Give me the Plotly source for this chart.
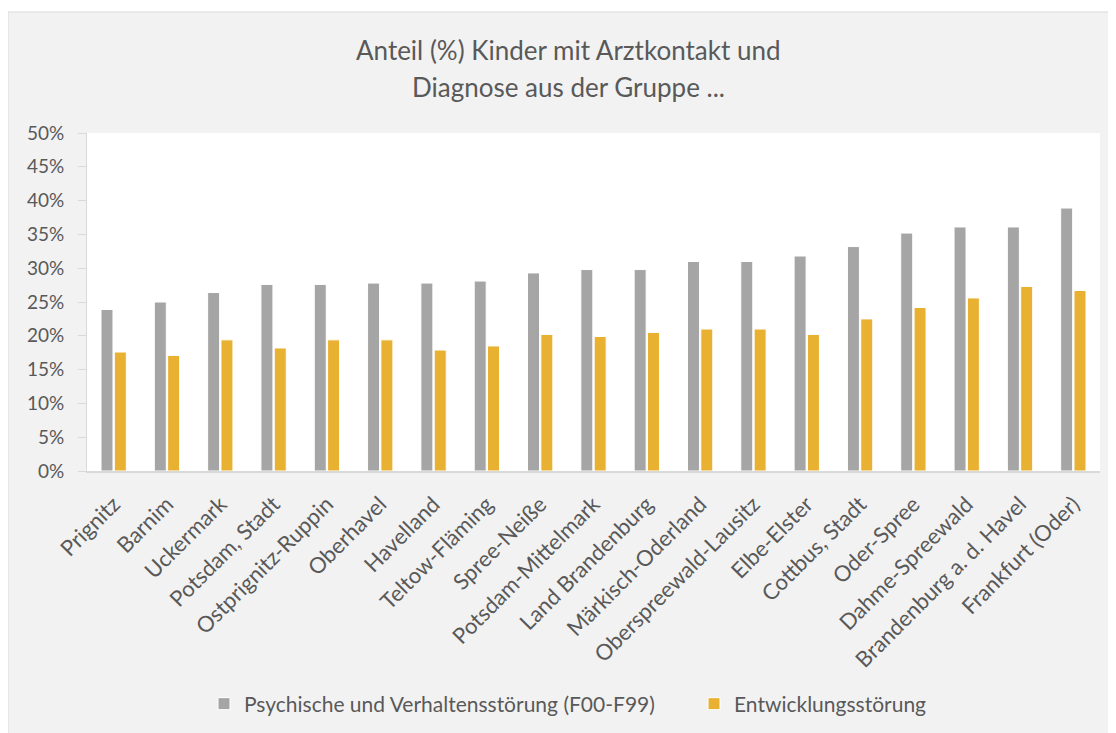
import plotly.graph_objects as go

categories = ["Prignitz", "Barnim", "Uckermark", "Potsdam, Stadt", "Ostprignitz-Ruppin",
              "Oberhavel", "Havelland", "Teltow-Fläming", "Spree-Neiße", "Potsdam-Mittelmark",
              "Land Brandenburg", "Märkisch-Oderland", "Oberspreewald-Lausitz", "Elbe-Elster",
              "Cottbus, Stadt", "Oder-Spree", "Dahme-Spreewald", "Brandenburg a. d. Havel",
              "Frankfurt (Oder)"]
psychisch = [23.9, 25.0, 26.4, 27.6, 27.6, 27.8, 27.8, 28.1, 29.3, 29.8, 29.8, 31.0, 31.0,
             31.8, 33.2, 35.2, 36.1, 36.1, 38.9]
entwicklung = [17.6, 17.1, 19.4, 18.2, 19.4, 19.4, 17.9, 18.5, 20.2, 19.9, 20.5, 21.0, 21.0,
               20.2, 22.5, 24.2, 25.6, 27.3, 26.7]
series_names = ["Psychische und Verhaltensstörung (F00-F99)", "Entwicklungsstörung"]
title_lines = ["Anteil (%) Kinder mit Arztkontakt und", "Diagnose aus der Gruppe ..."]

OFF = 8  # page body margin
W, H = 1116 - OFF, 733 - OFF
# plot-area edges in page pixels
PL, PR, PT, PB = 87, 1100, 133, 471
pw, ph = PR - PL, PB - PT

def px(x):
    return (x - PL) / pw

def py(y):
    return (PB - y) / ph

FONT = "Lato, 'Open Sans', sans-serif"
TXT = "#595959"

fig = go.Figure()
fig.add_trace(go.Bar(x=categories, y=[v / 100 for v in psychisch], name=series_names[0],
                     marker=dict(color="#A5A5A5", line=dict(color="white", width=1)),
                     legend="legend"))
fig.add_trace(go.Bar(x=categories, y=[v / 100 for v in entwicklung], name=series_names[1],
                     marker=dict(color="#E9B131", line=dict(color="white", width=1)),
                     legend="legend2"))

shapes = [
    dict(type="rect", xref="paper", yref="paper", x0=px(8), x1=px(1140), y0=py(760), y1=py(12),
         fillcolor="#F2F2F2", line=dict(color="#D9D9D9", width=1), layer="below"),
    dict(type="rect", xref="paper", yref="paper", x0=0, x1=1, y0=0, y1=1,
         fillcolor="white", line=dict(width=0), layer="below"),
]

annotations = [
    dict(text=title_lines[0], xref="paper", yref="paper", x=px(568), y=py(50),
         xanchor="center", yanchor="middle", showarrow=False,
         font=dict(family=FONT, size=26, color=TXT)),
    dict(text=title_lines[1], xref="paper", yref="paper", x=px(568), y=py(87),
         xanchor="center", yanchor="middle", showarrow=False,
         font=dict(family=FONT, size=26, color=TXT)),
]

legend_font = dict(family=FONT, size=21, color=TXT)
fig.update_layout(
    width=W, height=H,
    margin=dict(l=PL - OFF, r=1116 - PR, t=PT - OFF, b=733 - PB, pad=0, autoexpand=False),
    paper_bgcolor="white", plot_bgcolor="white",
    barmode="group", bargap=0.5, bargroupgap=0.1,
    font=dict(family=FONT, color=TXT),
    shapes=shapes, annotations=annotations,
    legend=dict(orientation="h", x=px(204), xanchor="left", y=py(704), yanchor="middle",
                font=legend_font, bgcolor="rgba(0,0,0,0)"),
    legend2=dict(orientation="h", x=px(694), xanchor="left", y=py(704), yanchor="middle",
                 font=legend_font, bgcolor="rgba(0,0,0,0)"),
    showlegend=True,
)
fig.update_yaxes(range=[0, 0.5], dtick=0.05, tickformat=".0%", showgrid=False,
                 showline=True, linecolor="#D9D9D9", linewidth=1,
                 ticks="outside", ticklen=8, tickcolor="#D9D9D9",
                 tickfont=dict(family=FONT, size=19, color=TXT), zeroline=False,
                 ticklabelstandoff=10)
fig.update_xaxes(showline=True, linecolor="#D9D9D9", linewidth=1.5, showgrid=False,
                 ticks="", tickangle=-45, ticklabelstandoff=10,
                 tickfont=dict(family=FONT, size=22, color=TXT))

fig.write_html("out.html")
